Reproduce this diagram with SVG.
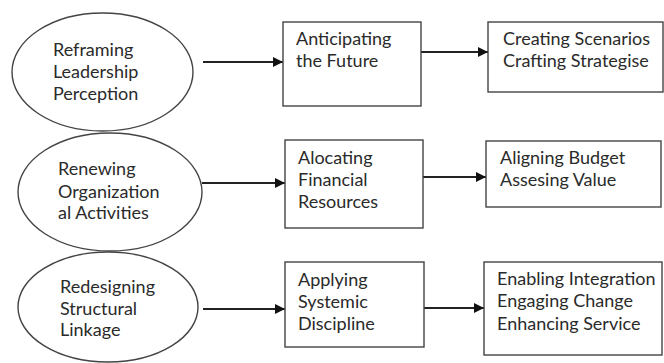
<svg xmlns="http://www.w3.org/2000/svg" width="664" height="363" viewBox="0 0 664 363">
<defs>
<style>
.sh{fill:#fff;stroke:#444;stroke-width:1.4}
.t{font-family:Lato,"Open Sans","DejaVu Sans",sans-serif;font-size:18px;fill:#2a2a2a}
.c{stroke:#222;stroke-width:2;fill:none;marker-end:url(#ah)}
</style>
<marker id="ah" viewBox="0 0 10 10" refX="10" refY="5" markerWidth="5" markerHeight="5" orient="auto" markerUnits="strokeWidth">
<path d="M0,0 L10,5 L0,10 Z" fill="#111"/>
</marker>
</defs>
<rect width="664" height="363" fill="#fff"/>
<g id="connectors">
<line class="c" x1="203" y1="62" x2="283" y2="62"/>
<line class="c" x1="421" y1="52" x2="488" y2="52"/>
<line class="c" x1="202" y1="183" x2="285" y2="183"/>
<line class="c" x1="423" y1="177" x2="486" y2="177"/>
<line class="c" x1="203" y1="309" x2="285" y2="309"/>
<line class="c" x1="424" y1="308" x2="484" y2="308"/>
</g>
<g id="n1"><ellipse class="sh" cx="102.5" cy="72" rx="90.5" ry="59"/>
<text class="t" x="53" y="56">Reframing</text><text class="t" x="53" y="78">Leadership</text><text class="t" x="53" y="100">Perception</text></g>
<g id="n2"><ellipse class="sh" cx="110" cy="192" rx="92" ry="59"/>
<text class="t" x="58" y="175">Renewing</text><text class="t" x="58" y="198">Organization</text><text class="t" x="58" y="219">al Activities</text></g>
<g id="n3"><ellipse class="sh" cx="108" cy="307" rx="90" ry="55"/>
<text class="t" x="60" y="293">Redesigning</text><text class="t" x="60" y="315">Structural</text><text class="t" x="60" y="336">Linkage</text></g>
<g id="n4"><rect class="sh" x="283" y="22" width="138" height="84"/>
<text class="t" x="296" y="45">Anticipating</text><text class="t" x="296" y="67">the Future</text></g>
<g id="n5"><rect class="sh" x="488" y="22" width="175" height="70"/>
<text class="t" x="503" y="45">Creating Scenarios</text><text class="t" x="503" y="67">Crafting Strategise</text></g>
<g id="n6"><rect class="sh" x="285" y="140" width="138" height="88"/>
<text class="t" x="298" y="164">Alocating</text><text class="t" x="298" y="186">Financial</text><text class="t" x="298" y="208">Resources</text></g>
<g id="n7"><rect class="sh" x="486" y="141" width="175" height="66"/>
<text class="t" x="500" y="164">Aligning Budget</text><text class="t" x="500" y="186">Assesing Value</text></g>
<g id="n8"><rect class="sh" x="285" y="262" width="139" height="85"/>
<text class="t" x="298" y="286">Applying</text><text class="t" x="298" y="308">Systemic</text><text class="t" x="298" y="330">Discipline</text></g>
<g id="n9"><rect class="sh" x="484" y="262" width="178" height="93"/>
<text class="t" x="497" y="285">Enabling Integration</text><text class="t" x="497" y="307">Engaging Change</text><text class="t" x="497" y="330">Enhancing Service</text></g>
</svg>
